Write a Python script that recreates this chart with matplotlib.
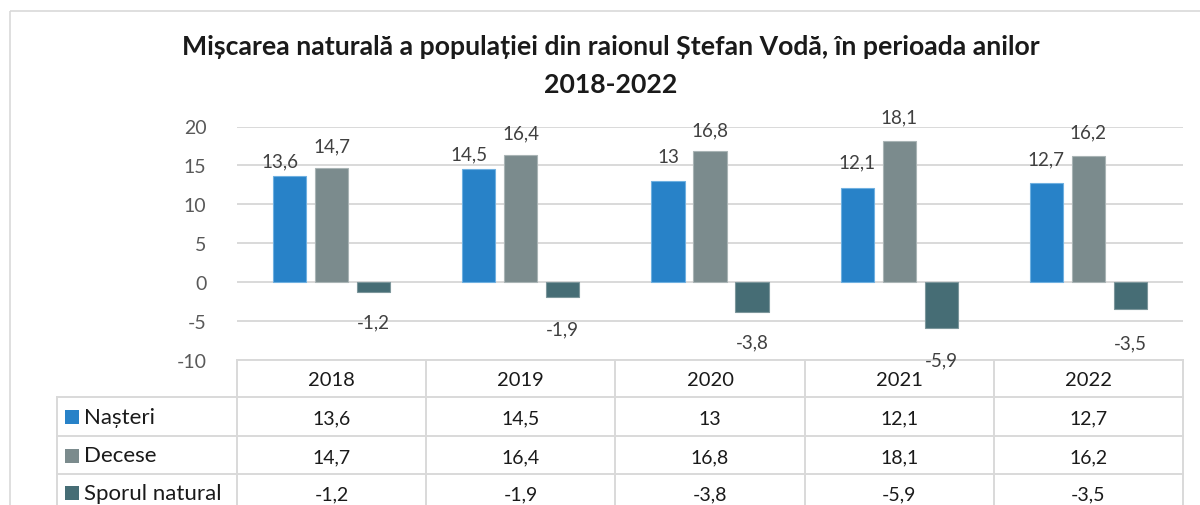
import matplotlib
matplotlib.use("Agg")
import matplotlib.pyplot as plt
from matplotlib import transforms
from matplotlib.patches import Rectangle

# ---------------- data ----------------
years = ["2018", "2019", "2020", "2021", "2022"]
series_names = ["Nașteri", "Decese", "Sporul natural"]
nasteri = [13.6, 14.5, 13.0, 12.1, 12.7]
decese = [14.7, 16.4, 16.8, 18.1, 16.2]
sporul = [-1.2, -1.9, -3.8, -5.9, -3.5]
yticks = [-10, -5, 0, 5, 10, 15, 20]
title_line1 = "Mișcarea naturală a populației din raionul Ștefan Vodă, în perioada anilor"
title_line2 = "2018-2022"

colors = ["#2882C8", "#7B8B8D", "#466D75"]
edge_colors = ["#6FB0E0", "#A9B4B5", "#7C969B"]
series = [nasteri, decese, sporul]


def fmt(v):
    s = ("%g" % v)
    return s.replace(".", ",")


W, H = 1200, 506
fig = plt.figure(figsize=(12, 5.06), dpi=100)
fig.patch.set_facecolor("white")
plt.rcParams["font.family"] = ["Lato", "DejaVu Sans"]

# overlay axes in pixel coordinates (for frame, table lines)
ovl = fig.add_axes([0, 0, 1, 1], zorder=0)
ovl.set_xlim(0, W)
ovl.set_ylim(H, 0)
ovl.axis("off")

# outer frame
ovl.add_patch(Rectangle((9.5, 11.5), W + 20, H + 20, fill=False,
                        edgecolor="#D9D9D9", lw=1.2))

# main plot axes
px_left, px_right = 237, 1183
px_top, px_bot = 127.5, 361
ax = fig.add_axes([px_left / W, 1 - px_bot / H, (px_right - px_left) / W,
                   (px_bot - px_top) / H], zorder=2)
ax.patch.set_alpha(0)
n = len(years)
ax.set_xlim(-0.5, n - 0.5)
ax.set_ylim(-10, 20)
ax.set_yticks(yticks)
ax.set_yticklabels([str(t) for t in yticks], fontsize=14, color="#595959")
ax.tick_params(axis="y", length=0, pad=22)
ax.set_xticks([])
for s in ax.spines.values():
    s.set_visible(False)
ax.grid(axis="y", color="#D9D9D9", lw=1.4)
ax.set_axisbelow(True)

offset = 0.222
width = 0.175
xs = list(range(n))
px = 0.72  # points per pixel

# label nudges (pixels): (dx, dy above/below bar end)
nudges = {
    0: [(-10, 15), (-10, 15), (0, 24), (0, 26), (0, 24)],
    1: [(0, 22), (0, 22), (0, 22), (0, 24), (0, 24)],
    2: [(0, 30), (0, 32), (0, 30), (0, 32), (0, 33)],
}

for k, vals in enumerate(series):
    pos = [x + (k - 1) * offset for x in xs]
    ax.bar(pos, vals, width=width, color=colors[k], edgecolor=edge_colors[k],
           linewidth=0.8, zorder=3)
    for i, (p, v) in enumerate(zip(pos, vals)):
        dx, dy = nudges[k][i]
        sign = 1 if v >= 0 else -1
        ax.annotate(fmt(v), xy=(p, v), xytext=(dx * px, sign * dy * px),
                    textcoords="offset points", ha="center", va="center",
                    fontsize=13.5, color="#404040", zorder=4,
                    annotation_clip=False)

# ---------------- data table ----------------
bt = transforms.blended_transform_factory(ax.transData, ovl.transData)
line_c = "#D9D9D9"
lw = 1.4
row_tops = [361, 398, 436.5, 474.5]
row_bottom_extra = H + 5
label_left = 57

# horizontal lines
ovl.plot([px_left, px_right], [row_tops[0], row_tops[0]], color=line_c, lw=lw)
for y in row_tops[1:]:
    ovl.plot([label_left, px_right], [y, y], color=line_c, lw=lw)
# vertical lines at category boundaries
for b in range(n + 1):
    ovl.plot([b - 0.5, b - 0.5], [row_tops[0], row_bottom_extra],
             color=line_c, lw=lw, transform=bt, clip_on=False)
ovl.plot([label_left, label_left], [row_tops[1], row_bottom_extra],
         color=line_c, lw=lw)

# header
hdr_y = (row_tops[0] + row_tops[1]) / 2 + 1
for i, yr in enumerate(years):
    ovl.text(i, hdr_y, yr, transform=bt, ha="center", va="center",
             fontsize=14.5, color="#1A1A1A")

row_centres = [(row_tops[1] + row_tops[2]) / 2, (row_tops[2] + row_tops[3]) / 2,
               (row_tops[3] + 506 + 5) / 2]
for k, vals in enumerate(series):
    yc = row_centres[k] + 2
    ovl.add_patch(Rectangle((65, yc - 8), 14, 14, facecolor=colors[k],
                            edgecolor="none"))
    ovl.text(84, yc - 1, series_names[k], ha="left", va="center",
             fontsize=16, color="#1A1A1A")
    for i, v in enumerate(vals):
        ovl.text(i, yc, fmt(v), transform=bt, ha="center", va="center",
                 fontsize=14, color="#1A1A1A")

# ---------------- title ----------------
fig.text(611 / W, 1 - 47 / H, title_line1, ha="center", va="center",
         fontsize=19.2, fontweight="bold", color="#1A1A1A")
fig.text(611 / W, 1 - 85 / H, title_line2, ha="center", va="center",
         fontsize=19.2, fontweight="bold", color="#1A1A1A")

fig.savefig("out.png", dpi=100, facecolor="white")
